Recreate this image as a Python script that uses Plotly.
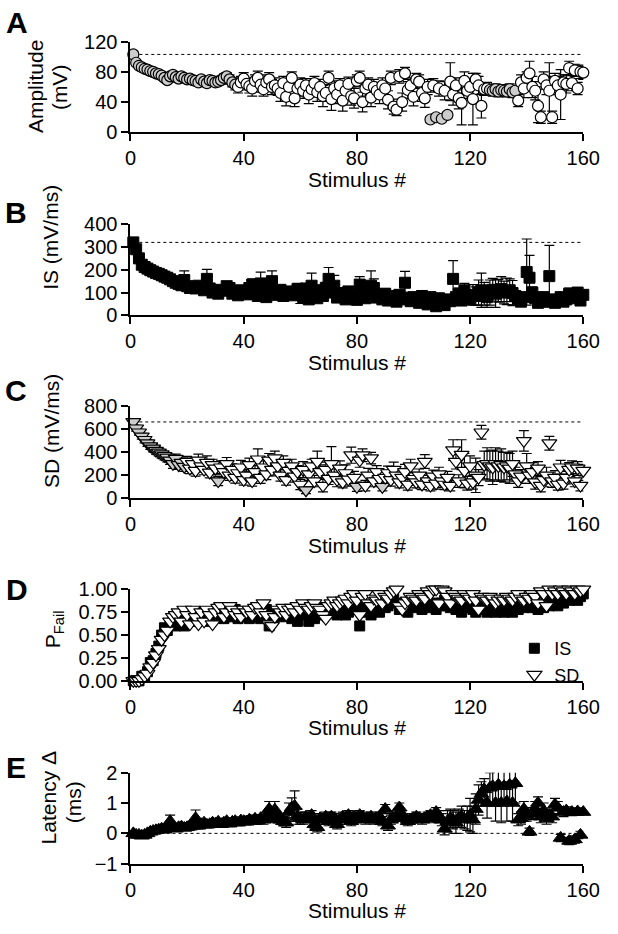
import plotly.graph_objects as go

# ---------------- data ----------------
stimulus = list(range(1, 161))

amplitude = [103,
    92, 88, 86, 84, 83, 81, 80, 78, 77,
    75, 72, 69, 74, 76, 73, 71, 74, 72, 70,
    71, 69, 68, 66, 70, 67, 65, 69, 68, 66,
    67, 69, 72, 74, 70, 66, 63, 60, 66, 71,
    64, 61, 58, 68, 72, 63, 57, 66, 70, 60,
    62, 58, 52, 65, 47, 60, 72, 45, 58, 63,
    55, 62, 50, 57, 65, 53, 60, 48, 52, 72,
    44, 58, 50, 62, 42, 55, 64, 48, 45, 68,
    72, 40, 58, 63, 46, 60, 55, 50, 62, 58,
    43, 72, 34, 30, 74, 40, 78, 56, 62, 47,
    70, 67, 52, 45, 60, 17, 62, 20, 58, 18,
    55, 23, 67, 50, 62, 45, 39, 68, 55, 60,
    44, 70, 62, 35, 57, 58, 56, 55, 57, 54,
    56, 55, 54, 57, 53, 55, 42, 66, 58, 72,
    78, 60, 55, 35, 20, 70, 62, 55, 20, 68,
    62, 50, 66, 64, 85, 65, 82, 58, 80, 79]
amplitude_err = [3,
    3, 3, 3, 3, 3, 3, 3, 3, 3,
    3, 4, 4, 3, 3, 3, 3, 3, 4, 4,
    4, 4, 4, 4, 4, 4, 4, 4, 4, 4,
    5, 5, 5, 5, 6, 6, 7, 8, 8, 8,
    8, 9, 10, 8, 9, 10, 9, 10, 9, 10,
    10, 9, 11, 9, 12, 10, 8, 11, 10, 9,
    10, 9, 12, 10, 9, 12, 10, 14, 11, 9,
    15, 10, 12, 9, 14, 10, 9, 12, 13, 8,
    9, 13, 10, 9, 12, 10, 11, 12, 10, 9,
    12, 9, 10, 8, 9, 12, 8, 11, 10, 12,
    8, 9, 11, 12, 10, 4, 9, 4, 10, 4,
    12, 4, 25, 14, 10, 14, 29, 12, 10, 10,
    34, 8, 12, 16, 8, 8, 7, 7, 7, 7,
    7, 7, 7, 7, 7, 7, 8, 10, 12, 8,
    16, 14, 12, 22, 8, 10, 12, 37, 8, 10,
    12, 33, 10, 12, 9, 10, 8, 8, 9, 9]

is_slope = [320,
    290, 250, 222, 212, 205, 198, 192, 186, 182,
    176, 170, 165, 158, 150, 143, 138, 132, 155, 128,
    120, 125, 118, 130, 122, 110, 160, 118, 100, 105,
    95, 112, 108, 128, 120, 95, 102, 88, 110, 100,
    92, 120, 135, 98, 85, 140, 118, 80, 108, 150,
    100, 90, 112, 85, 95, 105, 88, 100, 115, 92,
    80, 118, 70, 130, 95, 75, 110, 85, 120, 160,
    100, 130, 78, 98, 85, 70, 105, 90, 80, 68,
    135, 100, 75, 90, 130, 120, 78, 88, 70, 95,
    65, 85, 72, 60, 90, 78, 143, 70, 62, 80,
    72, 55, 85, 68, 48, 80, 60, 40, 75, 55,
    45, 70, 62, 160, 80, 95, 65, 110, 78, 70,
    90, 85, 100, 110, 95, 80, 100, 112, 95, 108,
    115, 100, 105, 110, 98, 85, 70, 60, 80, 190,
    165, 100, 75, 55, 65, 80, 60, 172, 70, 55,
    65, 80, 60, 70, 95, 90, 75, 100, 65, 90]
is_slope_err = [8,
    10, 10, 10, 10, 10, 10, 10, 10, 10,
    12, 12, 12, 12, 12, 12, 12, 12, 40, 15,
    15, 15, 15, 18, 15, 15, 42, 15, 15, 15,
    18, 15, 15, 20, 18, 15, 15, 15, 18, 15,
    18, 20, 25, 18, 15, 50, 22, 18, 20, 45,
    18, 15, 20, 15, 18, 20, 15, 18, 25, 40,
    15, 20, 15, 55, 18, 15, 22, 18, 25, 50,
    20, 45, 15, 20, 18, 15, 20, 18, 15, 15,
    35, 20, 15, 18, 65, 40, 15, 18, 15, 20,
    15, 18, 15, 15, 20, 18, 50, 15, 15, 18,
    15, 15, 20, 15, 15, 18, 15, 15, 18, 15,
    15, 18, 15, 80, 20, 25, 18, 30, 20, 18,
    45, 40, 55, 75, 50, 45, 55, 50, 60, 50,
    55, 50, 58, 50, 55, 20, 18, 15, 18, 145,
    98, 25, 18, 15, 18, 20, 15, 135, 18, 15,
    18, 20, 15, 18, 25, 20, 18, 22, 15, 20]

sd_slope = [665,
    610, 575, 540, 510, 480, 455, 435, 415, 400,
    385, 370, 355, 330, 300, 345, 290, 310, 275, 320,
    260, 300, 240, 330, 280, 250, 310, 225, 290, 260,
    150, 270, 230, 300, 200, 250, 180, 220, 270, 160,
    200, 290, 150, 230, 340, 180, 270, 210, 330, 250,
    350, 280, 200, 310, 160, 240, 280, 190, 230, 120,
    250, 70, 210, 280, 150, 320, 230, 110, 250, 170,
    300, 200, 160, 260, 140, 220, 165, 375, 180, 100,
    330, 375, 110, 200, 350, 150, 230, 170, 100, 180,
    220, 160, 250, 200, 140, 180, 230, 120, 280, 170,
    140, 200, 120, 320, 150, 110, 190, 130, 210, 150,
    120, 180, 110, 420, 320, 150, 380, 240, 130, 280,
    140, 200, 180, 575, 290, 300, 280, 270, 300, 280,
    290, 270, 280, 260, 300, 210, 150, 190, 500, 280,
    200, 230, 140, 260, 110, 160, 200, 480, 150, 180,
    120, 270, 130, 180, 250, 270, 150, 260, 110, 240]
sd_slope_err = [25,
    25, 25, 25, 28, 28, 30, 30, 30, 32,
    35, 35, 38, 35, 40, 40, 38, 42, 40, 45,
    45, 50, 48, 55, 50, 45, 60, 48, 50, 55,
    40, 55, 50, 55, 45, 50, 48, 55, 60, 45,
    50, 60, 45, 55, 90, 50, 55, 48, 60, 55,
    60, 55, 50, 60, 45, 55, 60, 50, 55, 45,
    70, 30, 55, 60, 50, 90, 60, 55, 65, 50,
    150, 55, 60, 65, 50, 70, 60, 70, 55, 40,
    60, 55, 45, 60, 50, 50, 55, 60, 35, 55,
    60, 55, 65, 55, 50, 60, 65, 50, 60, 55,
    50, 55, 45, 60, 50, 45, 55, 50, 60, 55,
    45, 55, 45, 90, 65, 55, 130, 150, 60, 90,
    60, 150, 70, 60, 120, 140, 130, 150, 140, 130,
    140, 130, 120, 130, 110, 60, 55, 60, 90, 110,
    70, 80, 60, 60, 55, 60, 70, 60, 55, 60,
    50, 60, 50, 55, 60, 55, 50, 60, 45, 55]

pfail_is = [0,
    0, 0, 0.05, 0.05, 0.1, 0.2, 0.22, 0.3, 0.38,
    0.5, 0.58, 0.55, 0.62, 0.65, 0.6, 0.62, 0.65, 0.6, 0.7,
    0.65, 0.7, 0.72, 0.68, 0.75, 0.7, 0.73, 0.65, 0.7, 0.72,
    0.75, 0.7, 0.68, 0.75, 0.72, 0.7, 0.78, 0.68, 0.72, 0.7,
    0.73, 0.68, 0.7, 0.75, 0.72, 0.68, 0.72, 0.78, 0.6, 0.68,
    0.75, 0.72, 0.7, 0.78, 0.75, 0.72, 0.68, 0.7, 0.65, 0.72,
    0.78, 0.75, 0.65, 0.72, 0.68, 0.8, 0.75, 0.72, 0.78, 0.75,
    0.8, 0.75, 0.72, 0.78, 0.8, 0.72, 0.75, 0.8, 0.78, 0.82,
    0.6, 0.78, 0.75, 0.8, 0.72, 0.82, 0.78, 0.75, 0.85, 0.8,
    0.82, 0.88, 0.9, 0.85, 0.78, 0.82, 0.8, 0.75, 0.85, 0.82,
    0.8, 0.85, 0.78, 0.82, 0.88, 0.8, 0.85, 0.78, 0.82, 0.85,
    0.88, 0.82, 0.8, 0.85, 0.78, 0.82, 0.75, 0.8, 0.85, 0.82,
    0.78, 0.75, 0.8, 0.82, 0.78, 0.75, 0.8, 0.78, 0.75, 0.8,
    0.78, 0.75, 0.8, 0.78, 0.75, 0.8, 0.78, 0.82, 0.8, 0.85,
    0.82, 0.8, 0.85, 0.78, 0.82, 0.8, 0.85, 0.82, 0.88, 0.85,
    0.82, 0.88, 0.85, 0.9, 0.88, 0.92, 0.9, 0.88, 0.92, 0.95]
pfail_sd = [0,
    0, 0, 0.02, 0.05, 0.08, 0.15, 0.2, 0.28, 0.35,
    0.45, 0.5, 0.55, 0.65, 0.7, 0.72, 0.75, 0.65, 0.78, 0.72,
    0.62, 0.78, 0.7, 0.62, 0.75, 0.65, 0.78, 0.72, 0.62, 0.75,
    0.8, 0.82, 0.7, 0.75, 0.82, 0.78, 0.72, 0.75, 0.7, 0.78,
    0.75, 0.78, 0.72, 0.8, 0.82, 0.75, 0.85, 0.72, 0.62, 0.6,
    0.7, 0.78, 0.75, 0.8, 0.72, 0.78, 0.8, 0.75, 0.82, 0.78,
    0.85, 0.8, 0.78, 0.82, 0.85, 0.8, 0.78, 0.72, 0.68, 0.82,
    0.85, 0.88, 0.82, 0.85, 0.88, 0.9, 0.85, 0.92, 0.95, 0.88,
    0.72, 0.92, 0.95, 0.85, 0.82, 0.9, 0.88, 0.95, 0.85, 0.92,
    0.9, 0.95, 0.98, 1.0, 0.82, 0.78, 0.85, 0.88, 0.92, 0.9,
    0.88, 0.95, 0.92, 0.9, 0.98, 0.95, 1.0, 1.0, 0.85, 1.0,
    0.98, 0.92, 0.85, 0.95, 0.92, 0.9, 0.88, 0.95, 0.92, 0.9,
    0.95, 0.88, 0.78, 0.92, 0.9, 0.88, 0.92, 0.9, 0.85, 0.88,
    0.9, 0.88, 0.92, 0.9, 0.88, 0.92, 0.95, 0.9, 0.88, 0.92,
    0.9, 0.95, 0.92, 0.85, 0.98, 0.95, 0.82, 1.0, 0.95, 0.98,
    0.95, 1.0, 0.98, 0.95, 1.0, 0.98, 0.95, 1.0, 0.98, 1.0]

latency = [0.0,
    -0.05, -0.05, -0.08, -0.05, 0.0, 0.05, 0.08, 0.1, 0.12,
    0.15, 0.12, 0.18, 0.4, 0.2, 0.15, 0.2, 0.22, 0.18, 0.2,
    0.22, 0.25, 0.5, 0.25, 0.3, 0.35, 0.28, 0.3, 0.35, 0.32,
    0.38, 0.3, 0.35, 0.4, 0.32, 0.38, 0.4, 0.35, 0.42, 0.4,
    0.38, 0.45, 0.4, 0.48, 0.42, 0.5, 0.45, 0.55, 0.8, 0.6,
    0.78, 0.5, 0.45, 0.4, 0.35, 0.7, 0.85, 0.9, 0.55, 0.5,
    0.45, 0.55, 0.5, 0.6, 0.3, 0.2, 0.5, 0.45, 0.55, 0.4,
    0.55, 0.5, 0.3, 0.45, 0.55, 0.5, 0.6, 0.4, 0.55, 0.5,
    0.6, 0.55, 0.45, 0.5, 0.55, 0.45, 0.5, 0.55, 0.4, 0.8,
    0.25, 0.45, 0.5, 0.55, 0.85, 0.6, 0.5, 0.4, 0.45, 0.5,
    0.55, 0.5, 0.45, 0.5, 0.55, 0.6, 0.5, 0.7, 0.55, 0.45,
    0.15, 0.4, 0.5, 0.45, 0.35, 0.5, 0.55, 0.45, 0.5, 0.6,
    0.45, 0.8, 1.1, 1.3, 1.45, 1.0, 1.5, 1.55, 1.0, 1.6,
    1.0, 1.55, 1.05, 1.6, 1.0, 1.65, 0.45, 0.5, 0.8, 0.6,
    0.05, 0.65, 0.8, 1.0, 0.55, 0.75, 0.5, 0.6, 0.55, 0.95,
    0.85, -0.15, 0.7, 0.75, -0.25, 0.7, -0.2, 0.72, -0.05, 0.7]
latency_err = [0.08,
    0.08, 0.08, 0.08, 0.08, 0.08, 0.08, 0.08, 0.08, 0.08,
    0.08, 0.08, 0.08, 0.2, 0.08, 0.08, 0.08, 0.08, 0.08, 0.08,
    0.08, 0.08, 0.27, 0.1, 0.1, 0.1, 0.1, 0.1, 0.1, 0.1,
    0.1, 0.1, 0.1, 0.1, 0.1, 0.1, 0.1, 0.1, 0.1, 0.1,
    0.1, 0.12, 0.1, 0.12, 0.12, 0.12, 0.15, 0.12, 0.25, 0.25,
    0.27, 0.15, 0.15, 0.15, 0.15, 0.3, 0.32, 0.5, 0.25, 0.2,
    0.15, 0.15, 0.15, 0.15, 0.15, 0.15, 0.15, 0.15, 0.15, 0.15,
    0.15, 0.15, 0.15, 0.15, 0.15, 0.15, 0.15, 0.15, 0.15, 0.15,
    0.15, 0.15, 0.15, 0.15, 0.15, 0.15, 0.15, 0.15, 0.15, 0.15,
    0.15, 0.15, 0.15, 0.15, 0.15, 0.15, 0.15, 0.15, 0.15, 0.15,
    0.15, 0.15, 0.15, 0.15, 0.15, 0.15, 0.15, 0.15, 0.2, 0.2,
    0.2, 0.35, 0.3, 0.3, 0.35, 0.3, 0.35, 0.3, 0.4, 0.55,
    0.45, 0.5, 0.5, 0.4, 0.35, 0.5, 0.5, 0.55, 0.6, 0.55,
    0.65, 0.6, 0.65, 0.65, 0.6, 0.65, 0.2, 0.2, 0.25, 0.2,
    0.12, 0.2, 0.25, 0.2, 0.2, 0.25, 0.2, 0.2, 0.2, 0.2,
    0.2, 0.12, 0.15, 0.12, 0.12, 0.12, 0.12, 0.12, 0.12, 0.1]

x_ticks = [0, 40, 80, 120, 160]
x_title = "Stimulus #"
y_ticks_A = [0, 40, 80, 120]
y_ticks_B = [0, 100, 200, 300, 400]
y_ticks_C = [0, 200, 400, 600, 800]
y_ticks_D = [0, 0.25, 0.5, 0.75, 1.0]
y_ticks_E = [-1, 0, 1, 2]

# ---------------- layout geometry ----------------
W, H = 618, 934
FONT = "Liberation Sans, Arial, Helvetica, sans-serif"
X0_PX, X1_PX = 129.3, 599.6

def fx(p):
    return p / W

def fy(p):
    return 1 - p / H

panels = [
    dict(top=31.3, bottom=124.3, rng=[0, 120], ticks=y_ticks_A, fmt=None),
    dict(top=218.3, bottom=311.7, rng=[0, 400], ticks=y_ticks_B, fmt=None),
    dict(top=405.0, bottom=499.0, rng=[0, 800], ticks=y_ticks_C, fmt=None),
    dict(top=592.3, bottom=686.0, rng=[0, 1], ticks=y_ticks_D, fmt=".2f"),
    dict(top=780.0, bottom=873.3, rng=[-1, 2], ticks=y_ticks_E, fmt=None),
]

def hatch_fill(errs, panel, radius_px, color="#cdcdcd"):
    ppu = (panel["bottom"] - panel["top"]) / (panel["rng"][1] - panel["rng"][0])
    return [color if e * ppu < radius_px else "white" for e in errs]

fig = go.Figure()

def err(arr):
    return dict(type="data", array=arr, visible=True, color="black",
                thickness=1.2, width=5)

def ref_line(xs, ys, sx):
    fig.add_trace(go.Scatter(x=xs, y=ys, mode="lines",
                             line=dict(color="black", width=1, dash="dot"),
                             xaxis="x" + sx, yaxis="y" + sx, showlegend=False,
                             hoverinfo="skip"))

# Panel A
ref_line([stimulus[0], 160], [amplitude[0]] * 2, "")
fig.add_trace(go.Scatter(x=stimulus, y=amplitude, mode="markers", error_y=err(amplitude_err),
                         marker=dict(symbol="circle", size=11,
                                     color=hatch_fill(amplitude_err, panels[0], 5.6),
                                     line=dict(color="black", width=1.2)),
                         xaxis="x", yaxis="y", showlegend=False, cliponaxis=False))
# Panel B
ref_line([stimulus[0], 160], [is_slope[0]] * 2, "2")
fig.add_trace(go.Scatter(x=stimulus, y=is_slope, mode="markers", error_y=err(is_slope_err),
                         marker=dict(symbol="square", size=11, color="black",
                                     line=dict(color="black", width=1)),
                         xaxis="x2", yaxis="y2", showlegend=False, cliponaxis=False))
# Panel C
ref_line([stimulus[0], 160], [sd_slope[0]] * 2, "3")
fig.add_trace(go.Scatter(x=stimulus, y=sd_slope, mode="markers", error_y=err(sd_slope_err),
                         marker=dict(symbol="triangle-down", size=13,
                                     color=hatch_fill(sd_slope_err, panels[2], 5.0),
                                     line=dict(color="black", width=1.2)),
                         xaxis="x3", yaxis="y3", showlegend=False, cliponaxis=False))
# Panel D
fig.add_trace(go.Scatter(x=stimulus, y=pfail_is, mode="markers", name="IS",
                         marker=dict(symbol="square", size=10, color="black",
                                     line=dict(color="black", width=1)),
                         xaxis="x4", yaxis="y4", cliponaxis=False))
fig.add_trace(go.Scatter(x=stimulus, y=pfail_sd, mode="markers", name="SD",
                         marker=dict(symbol="triangle-down", size=13, color="white",
                                     line=dict(color="black", width=1.2)),
                         xaxis="x4", yaxis="y4", cliponaxis=False))
# Panel E
ref_line([0, 160], [0, 0], "5")
fig.add_trace(go.Scatter(x=stimulus, y=latency, mode="markers", error_y=err(latency_err),
                         marker=dict(symbol="triangle-up", size=13, color="black",
                                     line=dict(color="black", width=1)),
                         xaxis="x5", yaxis="y5", showlegend=False, cliponaxis=False))

axis_common = dict(showline=True, linecolor="black", linewidth=2, ticks="outside",
                   ticklen=7, tickwidth=2, tickcolor="black", showgrid=False,
                   zeroline=False, tickfont=dict(family=FONT, size=20, color="black"))

layout = dict(width=W, height=H, margin=dict(l=0, r=0, t=0, b=0),
              plot_bgcolor="white", paper_bgcolor="white",
              font=dict(family=FONT, color="black"),
              legend=dict(x=fx(528), y=fy(634), xanchor="left", yanchor="top",
                          font=dict(family=FONT, size=18, color="black"),
                          bgcolor="rgba(0,0,0,0)", tracegroupgap=0))
for i, p in enumerate(panels, start=1):
    sx = "" if i == 1 else str(i)
    layout["xaxis" + sx] = dict(domain=[fx(X0_PX), fx(X1_PX)], range=[0, 160],
                                tickvals=x_ticks, anchor="y" + sx, **axis_common)
    ya = dict(domain=[fy(p["bottom"]), fy(p["top"])], range=p["rng"],
              tickvals=p["ticks"], anchor="x" + sx, **axis_common)
    if p["fmt"]:
        ya["tickformat"] = p["fmt"]
    layout["yaxis" + sx] = ya
fig.update_layout(**layout)

ann = []
def text(t, xpx, ypx, size=21, angle=0, bold=False):
    ann.append(dict(text=("<b>%s</b>" % t) if bold else t, x=fx(xpx), y=fy(ypx),
                    xref="paper", yref="paper", xanchor="center", yanchor="middle",
                    showarrow=False, textangle=angle,
                    font=dict(family=FONT, size=size, color="black")))

# panel letters
for letter, (lx, ly) in zip("ABCDE", [(11, 12), (10, 206), (10, 389), (11, 592), (10, 775)]):
    text(letter, lx, ly, size=30, bold=True)
# x titles
for p in panels:
    text(x_title, (X0_PX + X1_PX) / 2, p["bottom"] + 48)
# y titles
text("Amplitude", 30, 77, angle=-90)
text("(mV)", 55, 78, angle=-90)
text("IS (mV/ms)", 46, 232, angle=-90)
text("SD (mV/ms)", 48, 430, angle=-90)
text("P<sub>Fail</sub>", 50, 633, angle=-90)
text("Latency \u0394", 44, 806, angle=-90)
text("(ms)", 71, 810, angle=-90)
fig.update_layout(annotations=ann)

fig.write_html("out.html", config={"displayModeBar": False},
               post_script="document.body.style.margin='0';"
                           "document.body.style.overflow='hidden';")
